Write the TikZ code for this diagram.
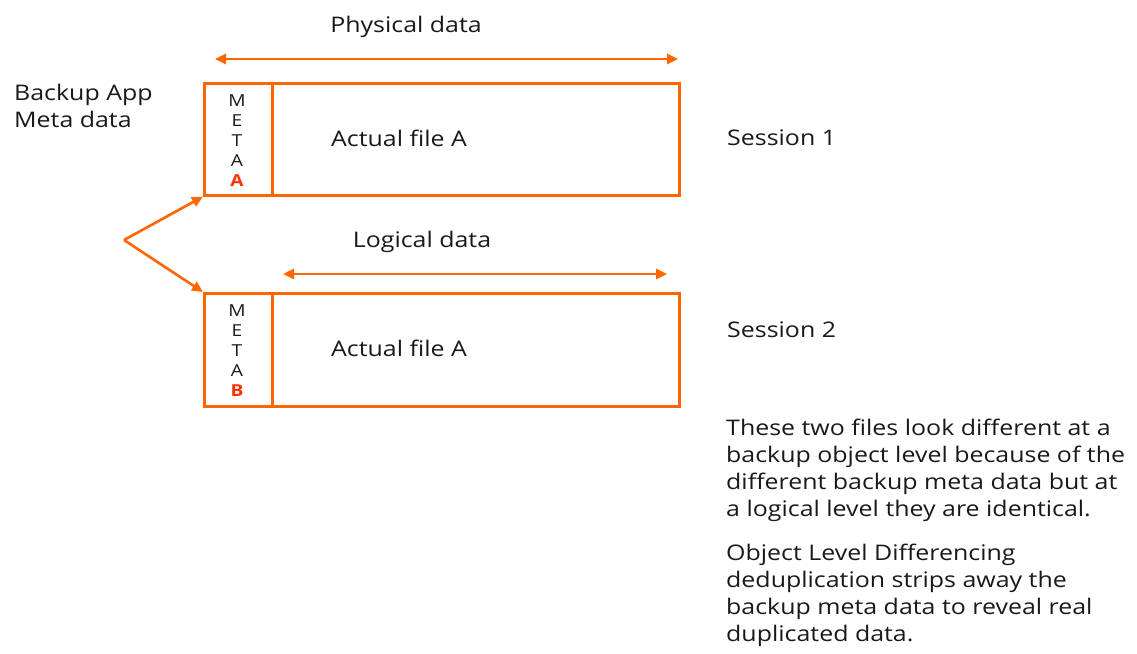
\documentclass[tikz,border=0pt]{standalone}
\usepackage{fontspec}
\setmainfont{Open Sans}[FakeStretch=1.16]
\usetikzlibrary{arrows.meta}
\definecolor{linecol}{RGB}{255,102,0}
\definecolor{metared}{RGB}{255,51,0}
\definecolor{txt}{RGB}{25,25,25}
\tikzset{
  conn/.style={draw=linecol, line width=2.6pt},
  dbl/.style={conn, {Triangle[length=11pt,width=10pt]}-{Triangle[length=11pt,width=10pt]}},
  oneway/.style={conn, -{Triangle[length=11pt,width=10pt]}},
  cell/.style={draw=linecol, line width=2.6pt, inner sep=0pt, anchor=north west},
  lbl/.style={text=txt, font=\fontsize{21.5}{27}\selectfont, inner sep=0pt},
  metatext/.style={text=txt, font=\fontsize{16.5}{20}\selectfont, align=center, inner sep=0pt}
}
\begin{document}
\begin{tikzpicture}[x=1pt,y=-1pt]
\useasboundingbox (0,0) rectangle (1137,653);

% session 1 record
\node[cell, minimum width=68pt, minimum height=112pt] (metaA) at (203,82) {};
\node[cell, minimum width=407pt, minimum height=112pt] (fileA) at (271,82) {};
\node[metatext, anchor=north] (mA) at (237,95) {M\\E\\T\\A\\\textcolor{metared}{\bfseries A}};

% session 2 record
\node[cell, minimum width=68pt, minimum height=113pt] (metaB) at (203,292) {};
\node[cell, minimum width=407pt, minimum height=113pt] (fileB) at (271,292) {};
\node[metatext, anchor=north] (mB) at (237,305) {M\\E\\T\\A\\\textcolor{metared}{\bfseries B}};

% labels inside records
\node[lbl, anchor=base west] (tA) at (331,146) {Actual file A};
\node[lbl, anchor=base west] (tB) at (331,356) {Actual file A};

% extent arrows
\coordinate (pL) at (215,59);
\coordinate (pR) at (678,59);
\draw[dbl] (pL) -- (pR);
\node[lbl, anchor=base] (phys) at (406,32) {Physical data};

\coordinate (lL) at (283,274);
\coordinate (lR) at (667,274);
\draw[dbl] (lL) -- (lR);
\node[lbl, anchor=base] (logi) at (422,247) {Logical data};

% metadata pointer
\coordinate (fork) at (124,240);
\draw[oneway] (fork) -- (metaA.south west);
\draw[oneway] (fork) -- (metaB.north west);
\node[lbl, anchor=north west, align=left] (app) at (14,84) {Backup App\\Meta data};

% session names
\node[lbl, anchor=base west] (s1) at (727,145) {Session 1};
\node[lbl, anchor=base west] (s2) at (727,337) {Session 2};

% explanation
\node[lbl, anchor=north west, align=left] (p1) at (726,419) {These two files look different at a\\backup object level because of the\\different backup meta data but at\\a logical level they are identical.};
\node[lbl, anchor=north west, align=left] (p2) at (726,544) {Object Level Differencing\\deduplication strips away the\\backup meta data to reveal real\\duplicated data.};
\end{tikzpicture}
\end{document}
